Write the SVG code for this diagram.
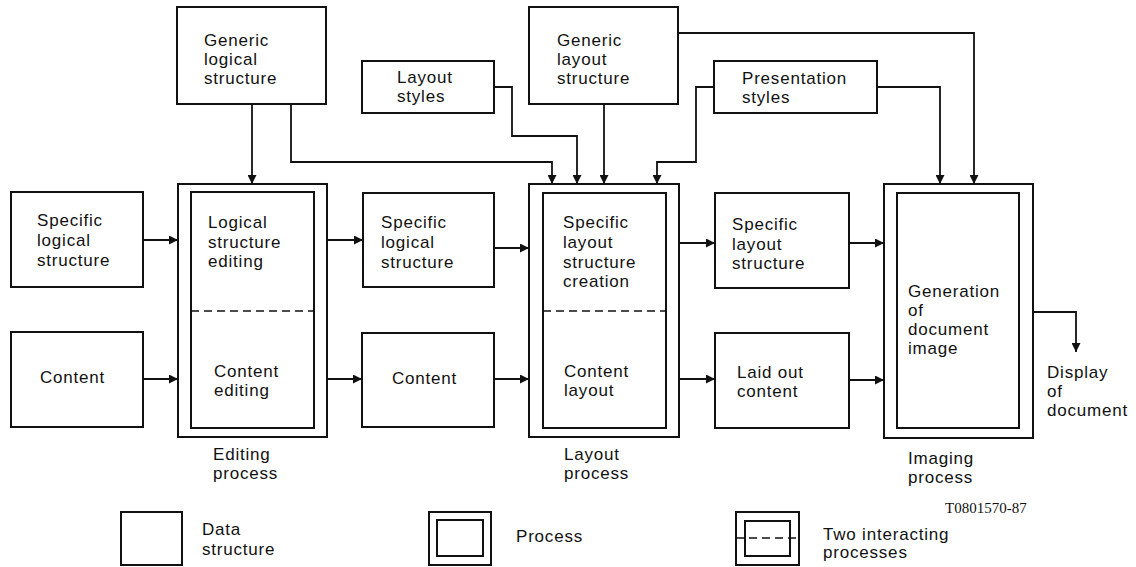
<svg xmlns="http://www.w3.org/2000/svg" width="1136" height="567" viewBox="0 0 1136 567">
<style>
.box{fill:none;stroke:#111;stroke-width:2}
.dash{fill:none;stroke:#111;stroke-width:1.6;stroke-dasharray:8 5}
.ln{fill:none;stroke:#111;stroke-width:1.8}
.t{font-family:"Liberation Sans",Arial,sans-serif;font-size:17px;letter-spacing:0.8px;fill:#111}
.id{font-family:"Liberation Serif","Times New Roman",serif;font-size:15px;fill:#111}
</style>
<defs>
<marker id="ah" viewBox="0 0 10 10" refX="10" refY="5" markerWidth="9" markerHeight="9" markerUnits="userSpaceOnUse" orient="auto">
<path d="M0,0 L10,5 L0,10 z" fill="#111"/>
</marker>
</defs>
<rect width="1136" height="567" fill="#fff"/>
<g id="connectors">
<path class="ln" d="M252,104 V184" marker-end="url(#ah)"/>
<path class="ln" d="M291,104 V162 H552 V184" marker-end="url(#ah)"/>
<path class="ln" d="M494,87 H512 V136 H577 V184" marker-end="url(#ah)"/>
<path class="ln" d="M604,104 V184" marker-end="url(#ah)"/>
<path class="ln" d="M678,33 H974 V184" marker-end="url(#ah)"/>
<path class="ln" d="M714,87 H696 V162 H657 V184" marker-end="url(#ah)"/>
<path class="ln" d="M877,87 H940 V184" marker-end="url(#ah)"/>
<path class="ln" d="M143,240 H178" marker-end="url(#ah)"/>
<path class="ln" d="M143,379 H178" marker-end="url(#ah)"/>
<path class="ln" d="M327,240 H363" marker-end="url(#ah)"/>
<path class="ln" d="M327,379 H362" marker-end="url(#ah)"/>
<path class="ln" d="M494,248 H529" marker-end="url(#ah)"/>
<path class="ln" d="M494,379 H529" marker-end="url(#ah)"/>
<path class="ln" d="M679,243 H715" marker-end="url(#ah)"/>
<path class="ln" d="M679,379 H715" marker-end="url(#ah)"/>
<path class="ln" d="M849,243 H884" marker-end="url(#ah)"/>
<path class="ln" d="M849,380 H884" marker-end="url(#ah)"/>
<path class="ln" d="M1033,312 H1076 V352" marker-end="url(#ah)"/>
</g>
<g id="generic-logical">
<rect class="box" x="177" y="7" width="149" height="97"/>
<text class="t" x="204" y="46">Generic</text>
<text class="t" x="204" y="65">logical</text>
<text class="t" x="204" y="84">structure</text>
</g>
<g id="layout-styles">
<rect class="box" x="362" y="61" width="132" height="52"/>
<text class="t" x="397" y="83">Layout</text>
<text class="t" x="397" y="102">styles</text>
</g>
<g id="generic-layout">
<rect class="box" x="529" y="7" width="149" height="97"/>
<text class="t" x="557" y="46">Generic</text>
<text class="t" x="557" y="65">layout</text>
<text class="t" x="557" y="84">structure</text>
</g>
<g id="presentation-styles">
<rect class="box" x="714" y="61" width="163" height="52"/>
<text class="t" x="742" y="84">Presentation</text>
<text class="t" x="742" y="103">styles</text>
</g>
<g id="specific-logical-in">
<rect class="box" x="11" y="192" width="132" height="95"/>
<text class="t" x="37" y="226">Specific</text>
<text class="t" x="37" y="246">logical</text>
<text class="t" x="37" y="266">structure</text>
</g>
<g id="content-in">
<rect class="box" x="11" y="332" width="132" height="95"/>
<text class="t" x="40" y="383">Content</text>
</g>
<g id="editing-process">
<rect class="box" x="178" y="184" width="149" height="253"/>
<rect class="box" x="191" y="192" width="123" height="236"/>
<line class="dash" x1="191" y1="311" x2="314" y2="311"/>
<text class="t" x="208" y="228">Logical</text>
<text class="t" x="208" y="248">structure</text>
<text class="t" x="208" y="267">editing</text>
<text class="t" x="214" y="377">Content</text>
<text class="t" x="214" y="396">editing</text>
<text class="t" x="213" y="460">Editing</text>
<text class="t" x="213" y="479">process</text>
</g>
<g id="specific-logical-mid">
<rect class="box" x="363" y="193" width="131" height="94"/>
<text class="t" x="381" y="228">Specific</text>
<text class="t" x="381" y="248">logical</text>
<text class="t" x="381" y="268">structure</text>
</g>
<g id="content-mid">
<rect class="box" x="362" y="333" width="132" height="94"/>
<text class="t" x="392" y="384">Content</text>
</g>
<g id="layout-process">
<rect class="box" x="529" y="184" width="150" height="253"/>
<rect class="box" x="543" y="193" width="123" height="235"/>
<line class="dash" x1="543" y1="311" x2="666" y2="311"/>
<text class="t" x="563" y="228">Specific</text>
<text class="t" x="563" y="248">layout</text>
<text class="t" x="563" y="268">structure</text>
<text class="t" x="563" y="287">creation</text>
<text class="t" x="564" y="377">Content</text>
<text class="t" x="564" y="396">layout</text>
<text class="t" x="564" y="460">Layout</text>
<text class="t" x="564" y="479">process</text>
</g>
<g id="specific-layout">
<rect class="box" x="715" y="193" width="134" height="95"/>
<text class="t" x="732" y="230">Specific</text>
<text class="t" x="732" y="250">layout</text>
<text class="t" x="732" y="269">structure</text>
</g>
<g id="laid-out-content">
<rect class="box" x="715" y="333" width="134" height="95"/>
<text class="t" x="737" y="378">Laid out</text>
<text class="t" x="737" y="397">content</text>
</g>
<g id="imaging-process">
<rect class="box" x="884" y="184" width="149" height="254"/>
<rect class="box" x="897" y="193" width="122" height="235"/>
<text class="t" x="908" y="297">Generation</text>
<text class="t" x="908" y="316">of</text>
<text class="t" x="908" y="335">document</text>
<text class="t" x="908" y="354">image</text>
<text class="t" x="908" y="464">Imaging</text>
<text class="t" x="908" y="483">process</text>
</g>
<g id="display">
<text class="t" x="1047" y="378">Display</text>
<text class="t" x="1047" y="397">of</text>
<text class="t" x="1047" y="416">document</text>
</g>
<text class="id" x="945" y="513">T0801570-87</text>
<g id="legend-data">
<rect class="box" x="121" y="512" width="61" height="53"/>
<text class="t" x="202" y="535">Data</text>
<text class="t" x="202" y="555">structure</text>
</g>
<g id="legend-process">
<rect class="box" x="429" y="512" width="62" height="53"/>
<rect class="box" x="437" y="520" width="46" height="36"/>
<text class="t" x="516" y="542">Process</text>
</g>
<g id="legend-two">
<rect class="box" x="736" y="512" width="63" height="53"/>
<rect class="box" x="745" y="521" width="45" height="35"/>
<line class="dash" x1="736" y1="538" x2="799" y2="538"/>
<text class="t" x="823" y="540">Two interacting</text>
<text class="t" x="823" y="558">processes</text>
</g>
</svg>
